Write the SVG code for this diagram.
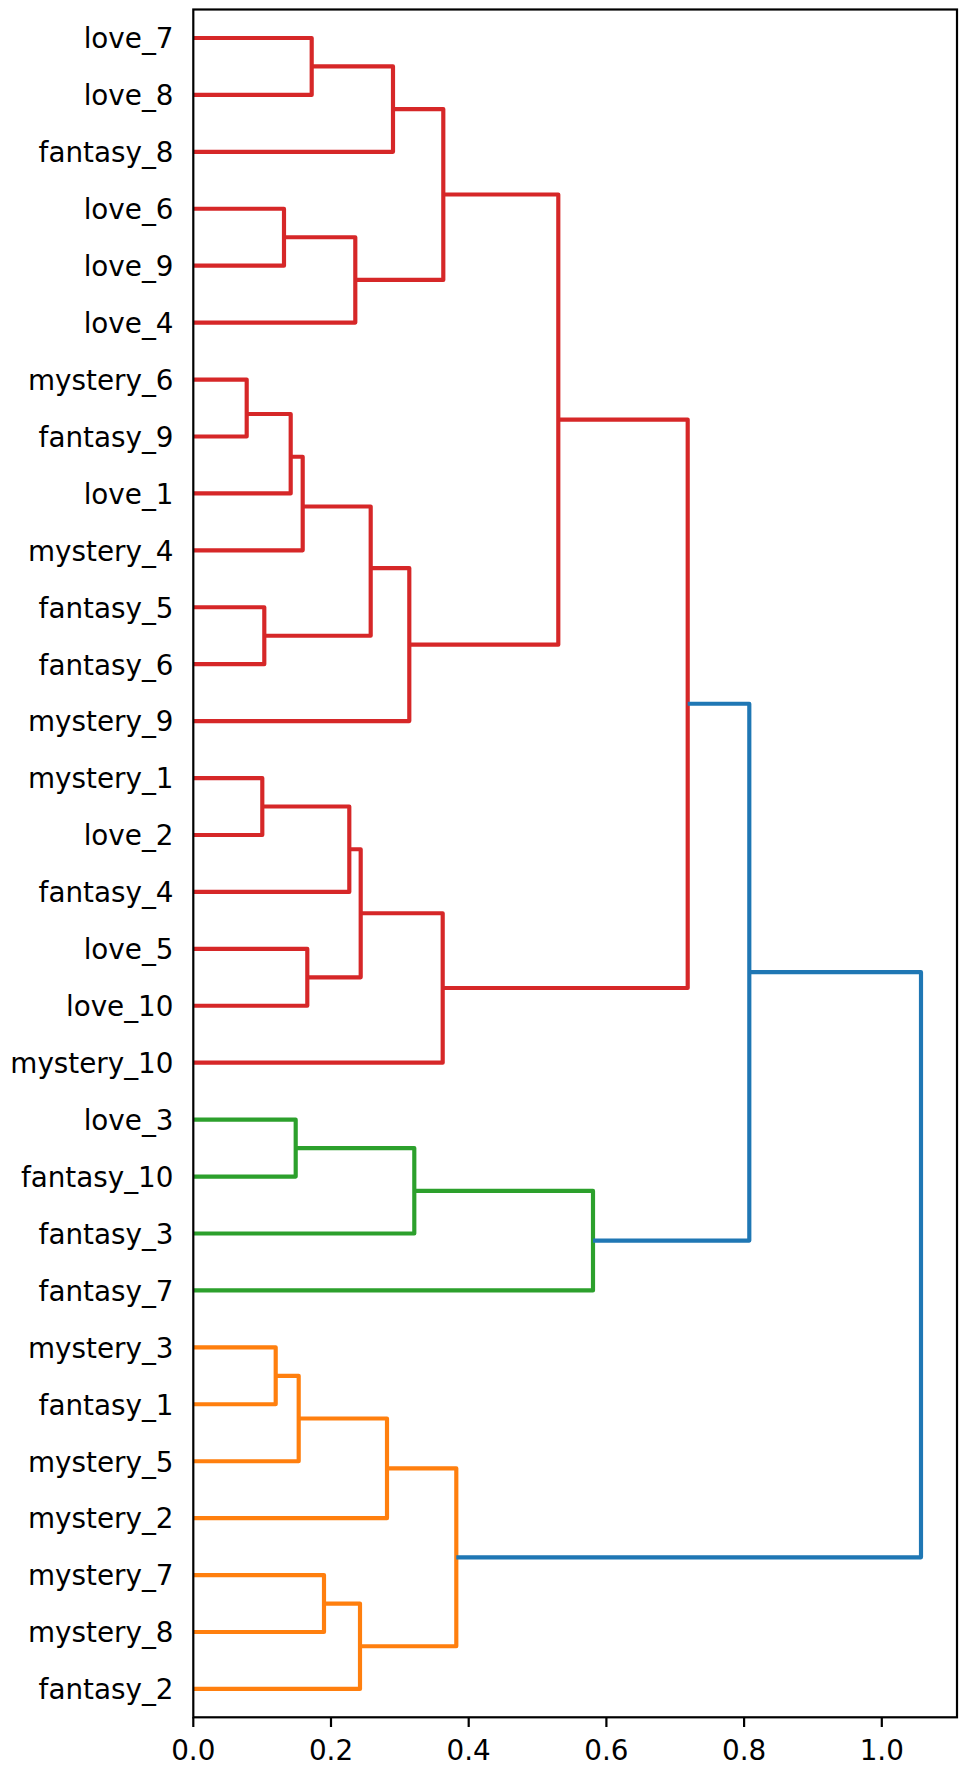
<svg xmlns="http://www.w3.org/2000/svg" width="963" height="1776" viewBox="0 0 963 1776">
<style>
text{font-family:"DejaVu Sans","Liberation Sans",sans-serif;font-size:27.8px;fill:#000}
.lbl{text-anchor:end}
.tk{text-anchor:middle}
.ln{fill:none;stroke-width:4.17;stroke-linejoin:round;stroke-linecap:butt}
.r{stroke:#d62728}.g{stroke:#2ca02c}.o{stroke:#ff7f0e}.b{stroke:#1f77b4}
.ax{fill:none;stroke:#000;stroke-width:2.2;stroke-linecap:square}
</style>
<rect width="963" height="1776" fill="#fff"/>
<g id="connectors">
<path class="ln r" d="M194 37.96H311.7V94.89H194"/>
<path class="ln r" d="M311.7 66.43H393V151.82H194"/>
<path class="ln r" d="M194 208.75H284V265.68H194"/>
<path class="ln r" d="M284 237.22H355.3V322.61H194"/>
<path class="ln r" d="M393 109.12H443.3V279.91H355.3"/>
<path class="ln r" d="M194 379.54H246.7V436.47H194"/>
<path class="ln r" d="M246.7 414.01H290.7V493.4H194"/>
<path class="ln r" d="M290.7 456.71H302.7V550.33H194"/>
<path class="ln r" d="M194 607.26H264.3V664.19H194"/>
<path class="ln r" d="M302.7 506.52H370.7V635.73H264.3"/>
<path class="ln r" d="M370.7 568.12H409.3V721.12H194"/>
<path class="ln r" d="M443.3 194.52H558.3V644.63H409.3"/>
<path class="ln r" d="M194 778.05H262.3V834.98H194"/>
<path class="ln r" d="M262.3 806.52H349.3V891.91H194"/>
<path class="ln r" d="M194 948.84H307.3V1005.77H194"/>
<path class="ln r" d="M349.3 849.21H360.7V977.31H307.3"/>
<path class="ln r" d="M360.7 913.26H442.7V1062.7H194"/>
<path class="ln r" d="M558.3 419.56H687.7V987.98H442.7"/>
<path class="ln g" d="M194 1119.63H295.7V1176.56H194"/>
<path class="ln g" d="M295.7 1148.1H414.3V1233.49H194"/>
<path class="ln g" d="M414.3 1190.79H593V1290.42H194"/>
<path class="ln b" d="M687.7 703.77H749.3V1240.61H593"/>
<path class="ln o" d="M194 1347.35H275.7V1404.28H194"/>
<path class="ln o" d="M275.7 1375.82H298.7V1461.21H194"/>
<path class="ln o" d="M298.7 1418.51H387V1518.14H194"/>
<path class="ln o" d="M194 1575.07H324V1632H194"/>
<path class="ln o" d="M324 1603.54H360V1688.93H194"/>
<path class="ln o" d="M387 1468.32H456.3V1646.24H360"/>
<path class="ln b" d="M749.3 972.19H921V1557.29H456.3"/>
</g>
<g id="axes">
<rect class="ax" x="193.3" y="9.5" width="763.7" height="1707.8"/>
<path class="ax" d="M193.3 1717.3V1727M331 1717.3V1727M468.7 1717.3V1727M606.4 1717.3V1727M744.1 1717.3V1727M881.8 1717.3V1727" style="stroke-linecap:butt"/>
<text class="tk" x="193.3" y="1760">0.0</text>
<text class="tk" x="331" y="1760">0.2</text>
<text class="tk" x="468.7" y="1760">0.4</text>
<text class="tk" x="606.4" y="1760">0.6</text>
<text class="tk" x="744.1" y="1760">0.8</text>
<text class="tk" x="881.8" y="1760">1.0</text>
</g>
<g id="leaf-love_7"><text class="lbl" x="173.5" y="48.3">love_7</text></g>
<g id="leaf-love_8"><text class="lbl" x="173.5" y="105.2">love_8</text></g>
<g id="leaf-fantasy_8"><text class="lbl" x="173.5" y="162.1">fantasy_8</text></g>
<g id="leaf-love_6"><text class="lbl" x="173.5" y="219.1">love_6</text></g>
<g id="leaf-love_9"><text class="lbl" x="173.5" y="276">love_9</text></g>
<g id="leaf-love_4"><text class="lbl" x="173.5" y="332.9">love_4</text></g>
<g id="leaf-mystery_6"><text class="lbl" x="173.5" y="389.8">mystery_6</text></g>
<g id="leaf-fantasy_9"><text class="lbl" x="173.5" y="446.8">fantasy_9</text></g>
<g id="leaf-love_1"><text class="lbl" x="173.5" y="503.7">love_1</text></g>
<g id="leaf-mystery_4"><text class="lbl" x="173.5" y="560.6">mystery_4</text></g>
<g id="leaf-fantasy_5"><text class="lbl" x="173.5" y="617.6">fantasy_5</text></g>
<g id="leaf-fantasy_6"><text class="lbl" x="173.5" y="674.5">fantasy_6</text></g>
<g id="leaf-mystery_9"><text class="lbl" x="173.5" y="731.4">mystery_9</text></g>
<g id="leaf-mystery_1"><text class="lbl" x="173.5" y="788.4">mystery_1</text></g>
<g id="leaf-love_2"><text class="lbl" x="173.5" y="845.3">love_2</text></g>
<g id="leaf-fantasy_4"><text class="lbl" x="173.5" y="902.2">fantasy_4</text></g>
<g id="leaf-love_5"><text class="lbl" x="173.5" y="959.1">love_5</text></g>
<g id="leaf-love_10"><text class="lbl" x="173.5" y="1016.1">love_10</text></g>
<g id="leaf-mystery_10"><text class="lbl" x="173.5" y="1073">mystery_10</text></g>
<g id="leaf-love_3"><text class="lbl" x="173.5" y="1129.9">love_3</text></g>
<g id="leaf-fantasy_10"><text class="lbl" x="173.5" y="1186.9">fantasy_10</text></g>
<g id="leaf-fantasy_3"><text class="lbl" x="173.5" y="1243.8">fantasy_3</text></g>
<g id="leaf-fantasy_7"><text class="lbl" x="173.5" y="1300.7">fantasy_7</text></g>
<g id="leaf-mystery_3"><text class="lbl" x="173.5" y="1357.7">mystery_3</text></g>
<g id="leaf-fantasy_1"><text class="lbl" x="173.5" y="1414.6">fantasy_1</text></g>
<g id="leaf-mystery_5"><text class="lbl" x="173.5" y="1471.5">mystery_5</text></g>
<g id="leaf-mystery_2"><text class="lbl" x="173.5" y="1528.4">mystery_2</text></g>
<g id="leaf-mystery_7"><text class="lbl" x="173.5" y="1585.4">mystery_7</text></g>
<g id="leaf-mystery_8"><text class="lbl" x="173.5" y="1642.3">mystery_8</text></g>
<g id="leaf-fantasy_2"><text class="lbl" x="173.5" y="1699.2">fantasy_2</text></g>
</svg>
